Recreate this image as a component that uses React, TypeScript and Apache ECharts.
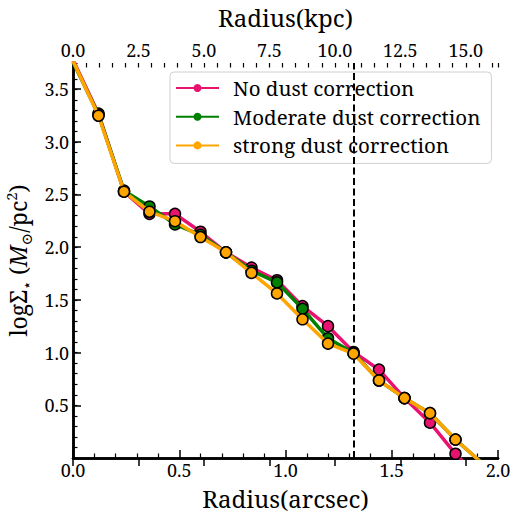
import React, { useEffect, useRef } from "react";
import * as echarts from "echarts";

const radiusArcsec = [0, 0.12, 0.24, 0.36, 0.48, 0.6, 0.72, 0.84, 0.96, 1.08, 1.2, 1.32, 1.44, 1.56, 1.68, 1.8, 1.92];
const noDust = [3.78, 3.27, 2.53, 2.32, 2.32, 2.15, 1.955, 1.81, 1.69, 1.445, 1.255, 1.01, 0.843, 0.573, 0.34, 0.045, -0.2];
const moderateDust = [3.76, 3.26, 2.54, 2.39, 2.22, 2.12, 1.955, 1.78, 1.67, 1.42, 1.14, 1.0, 0.74, 0.573, 0.43, 0.18, -0.035];
const strongDust = [3.77, 3.25, 2.53, 2.34, 2.25, 2.1, 1.955, 1.76, 1.565, 1.32, 1.09, 0.995, 0.74, 0.573, 0.43, 0.18, -0.035];
const seriesNames = ["No dust correction", "Moderate dust correction", "strong dust correction"];
const seriesColors = ["#e8136f", "#008000", "#ffa500"];
const dashedRadius = 1.32;
const kpcMax = 16.23;

const FONT = "'Noto Serif', 'DejaVu Serif', serif";

export default function App() {
  const ref = useRef<HTMLDivElement>(null);
  useEffect(() => {
    if (!ref.current) return;
    const chart = echarts.init(ref.current, null, { renderer: "svg" });
    const values = [noDust, moderateDust, strongDust];
    const lineSeries = values.map((vals, i) => ({
      name: seriesNames[i],
      type: "line",
      xAxisIndex: 0,
      yAxisIndex: 0,
      data: radiusArcsec.map((x, j) => [x, vals[j]]),
      symbol: "circle",
      symbolSize: 11,
      clip: true,
      z: 3 + i,
      lineStyle: { color: seriesColors[i], width: 3.5 },
      itemStyle: { color: seriesColors[i], borderColor: "#000", borderWidth: 1.5 },
    }));
    const tickLabel = { color: "#000", fontFamily: FONT, fontSize: 18, lineHeight: 18 };
    const titleStyle = { fontFamily: FONT, fontSize: 24, color: "#000", lineHeight: 24 };
    chart.setOption({
      animation: false,
      textStyle: { fontFamily: FONT },
      grid: { left: 73, right: 18, top: 63, bottom: 57, outerBoundsMode: "none", containLabel: false },
      legend: {
        data: seriesNames,
        left: 170,
        top: 72,
        orient: "vertical",
        itemWidth: 43,
        itemHeight: 10,
        itemGap: 4.7,
        padding: [4, 11, 6, 5],
        backgroundColor: "rgba(255,255,255,0.8)",
        borderColor: "#d0d0d0",
        borderWidth: 1,
        borderRadius: 4,
        itemStyle: { borderWidth: 0 },
        textStyle: { fontFamily: FONT, fontSize: 20.5, color: "#000", lineHeight: 24, padding: [0, 0, 0, 9] },
      },
      xAxis: [
        {
          type: "value",
          position: "bottom",
          min: 0,
          max: 2,
          interval: 0.5,
          name: "Radius(arcsec)",
          nameLocation: "middle",
          nameGap: 28,
          nameTextStyle: titleStyle,
          axisLine: { show: true, lineStyle: { color: "#000", width: 2.5 } },
          axisTick: { show: true, inside: true, length: 8, lineStyle: { color: "#000", width: 1.5 } },
          minorTick: { show: true, splitNumber: 5, length: 4.5, lineStyle: { color: "#000", width: 1.2 } },
          splitLine: { show: false },
          axisLabel: { ...tickLabel, margin: 3, formatter: (v: number) => v.toFixed(1) },
        },
        {
          type: "value",
          position: "top",
          min: 0,
          max: kpcMax,
          interval: 2.5,
          name: "Radius(kpc)",
          nameLocation: "middle",
          nameGap: 34,
          nameTextStyle: titleStyle,
          axisLine: { show: true, lineStyle: { color: "#000", width: 2.5 } },
          axisTick: { show: true, inside: true, length: 8, lineStyle: { color: "#000", width: 1.5 } },
          splitLine: { show: false },
          axisLabel: { ...tickLabel, margin: 4, showMaxLabel: false, formatter: (v: number) => v.toFixed(1) },
        },
        {
          type: "value",
          position: "top",
          min: 0,
          max: kpcMax,
          interval: 0.5,
          axisLine: { show: false },
          axisTick: { show: true, inside: true, length: 4.5, lineStyle: { color: "#000", width: 1.2 } },
          splitLine: { show: false },
          axisLabel: { show: false },
        },
      ],
      yAxis: [
        {
          type: "value",
          position: "left",
          min: 0.005,
          max: 3.75,
          interval: 0.5,
          name: "{n|logΣ}{sub|⋆}{n| (}{i|M}{sub|⊙}{n|/pc}{sup|2}{n|)}",
          nameLocation: "middle",
          nameRotate: 90,
          nameGap: 31,
          nameTextStyle: {
            fontFamily: FONT,
            color: "#000",
            rich: {
              n: { fontFamily: FONT, fontSize: 23, color: "#000", lineHeight: 30 },
              i: { fontFamily: FONT, fontSize: 23, fontStyle: "italic", color: "#000", lineHeight: 30 },
              sub: { fontFamily: FONT, fontSize: 15, color: "#000", lineHeight: 16, verticalAlign: "bottom" },
              sup: { fontFamily: FONT, fontSize: 15, color: "#000", lineHeight: 16, verticalAlign: "top" },
            },
          },
          axisLine: { show: true, lineStyle: { color: "#000", width: 2.5 } },
          axisTick: { show: true, inside: true, length: 8, lineStyle: { color: "#000", width: 1.5 } },
          splitLine: { show: false },
          axisLabel: { ...tickLabel, margin: 4, showMaxLabel: false, showMinLabel: false, formatter: (v: number) => v.toFixed(1) },
        },
        {
          type: "value",
          position: "left",
          min: 0,
          max: 3.75,
          interval: 0.1,
          axisLine: { show: false },
          axisTick: { show: true, inside: true, length: 4.5, lineStyle: { color: "#000", width: 1.2 } },
          splitLine: { show: false },
          axisLabel: { show: false },
        },
        {
          type: "value",
          position: "right",
          min: 0,
          max: 3.75,
          axisLine: { show: true, lineStyle: { color: "#000", width: 2.5 } },
          axisTick: { show: false },
          splitLine: { show: false },
          axisLabel: { show: false },
        },
      ],
      series: [
        {
          type: "line",
          xAxisIndex: 0,
          yAxisIndex: 0,
          data: [],
          z: 2,
          markLine: {
            silent: true,
            symbol: "none",
            label: { show: false },
            lineStyle: { color: "#000", width: 2, type: [7, 3.5] },
            data: [{ xAxis: dashedRadius }],
          },
        },
        ...lineSeries,
      ],
    });
    return () => chart.dispose();
  }, []);
  return <div ref={ref} style={{ position: "absolute", left: 0, top: 0, width: 516, height: 515 }} />;
}
